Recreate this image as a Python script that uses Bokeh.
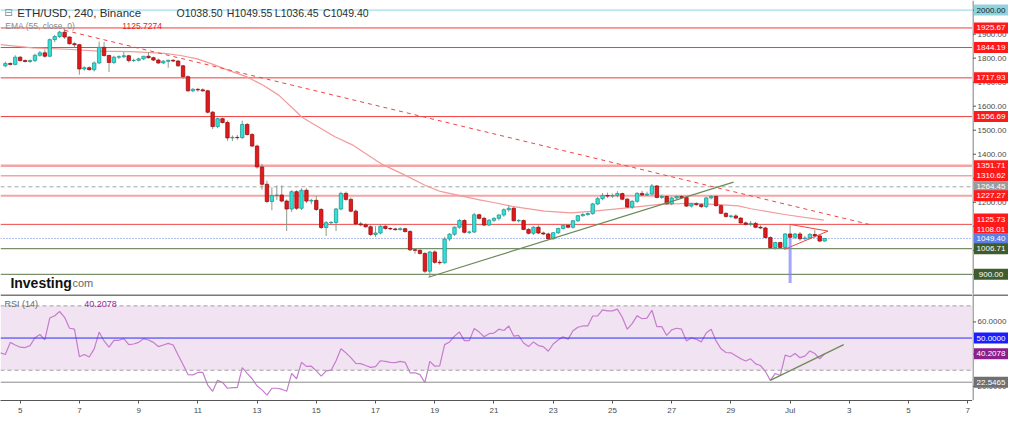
from bokeh.plotting import figure
from bokeh.models import (Range1d, FixedTicker, Label, Span, ColumnDataSource, BoxAnnotation)
from bokeh.layouts import column, row
from bokeh.core.properties import value
from bokeh.embed import file_html
from bokeh.resources import INLINE

# ---------------- data (ETH/USD 4h candles, Binance) ----------------
opens = [1768,1778,1774,1804,1790,1786,1790,1812,1822,1808,
         1877,1890,1908,1888,1860,1856,1755,1760,1752,1780,
         1845,1811,1782,1804,1806,1810,1790,1791,1797,1808,
         1802,1792,1780,1787,1791,1788,1768,1723,1664,1670,
         1668,1664,1575,1515,1548,1532,1468,1470,1469,1524,
         1482,1434,1347,1275,1203,1228,1230,1205,1172,1244,
         1175,1250,1205,1208,1170,1095,1115,1116,1172,1237,
         1212,1163,1110,1106,1098,1066,1072,1100,1091,1089,
         1086,1090,1078,1002,1000,987,913,993,950,948,
         1047,1067,1096,1124,1075,1076,1148,1133,1105,1125,
         1133,1147,1169,1175,1123,1124,1087,1071,1096,1072,
         1068,1048,1073,1091,1104,1096,1123,1144,1149,1153,
         1193,1215,1228,1226,1228,1236,1213,1180,1204,1237,
         1230,1234,1268,1220,1224,1194,1218,1224,1220,1184,
         1194,1190,1182,1218,1224,1186,1154,1141,1143,1134,
         1114,1108,1112,1096,1093,1053,1011,1032,1012,1068,
         1054,1068,1048,1051,1066,1060,1038.5]
closes = [1778,1774,1804,1790,1786,1790,1812,1822,1808,1877,
          1890,1908,1888,1860,1856,1755,1760,1752,1780,1845,
          1811,1782,1804,1806,1810,1790,1791,1797,1808,1802,
          1792,1780,1787,1791,1788,1768,1723,1664,1670,1668,
          1664,1575,1515,1548,1532,1468,1470,1469,1524,1482,
          1434,1347,1275,1203,1228,1230,1205,1172,1244,1175,
          1250,1205,1208,1170,1095,1115,1116,1172,1237,1212,
          1163,1110,1106,1098,1066,1072,1100,1091,1089,1086,
          1090,1078,1002,1000,987,913,993,950,948,1047,
          1067,1096,1124,1075,1076,1148,1133,1105,1125,1133,
          1147,1169,1175,1123,1124,1087,1071,1096,1072,1068,
          1048,1073,1091,1104,1096,1123,1144,1149,1153,1193,
          1215,1228,1226,1228,1236,1213,1180,1204,1237,1230,
          1234,1268,1220,1224,1194,1218,1224,1220,1184,1194,
          1190,1182,1218,1224,1186,1154,1141,1143,1134,1114,
          1108,1112,1096,1093,1053,1011,1032,1012,1068,1054,
          1068,1048,1051,1066,1060,1038.5,1049.4]
highs = [1786,1782,1812,1808,1795,1794,1818,1830,1836,1882,
         1896,1914,1923,1890,1866,1860,1766,1766,1786,1869,
         1867,1815,1810,1812,1826,1814,1798,1802,1808,1826,
         1806,1798,1792,1794,1796,1792,1772,1728,1676,1676,
         1674,1668,1580,1552,1552,1540,1478,1480,1540,1530,
         1488,1440,1359,1290,1262,1270,1270,1212,1250,1250,
         1258,1258,1214,1226,1176,1122,1122,1176,1244,1244,
         1220,1170,1118,1112,1104,1100,1106,1104,1096,1094,
         1096,1094,1084,1010,1004,992,998,1000,960,1056,
         1072,1100,1130,1130,1082,1156,1152,1140,1130,1138,
         1150,1175,1188,1180,1130,1128,1092,1100,1104,1078,
         1074,1076,1094,1108,1110,1126,1148,1156,1158,1198,
         1222,1238,1240,1236,1246,1240,1218,1208,1242,1248,
         1244,1276,1272,1232,1228,1224,1228,1230,1226,1198,
         1200,1196,1222,1230,1230,1190,1158,1148,1150,1138,
         1120,1122,1118,1104,1098,1058,1036,1036,1072,1108,
         1072,1076,1060,1072,1086,1064,1049.55]
lows = [1762,1770,1770,1786,1782,1780,1784,1806,1802,1804,
        1866,1884,1880,1856,1846,1731,1748,1748,1744,1776,
        1806,1742,1776,1796,1800,1782,1784,1786,1792,1798,
        1788,1776,1776,1760,1784,1764,1714,1660,1658,1660,
        1660,1570,1505,1508,1528,1456,1455,1460,1464,1478,
        1430,1340,1253,1196,1167,1210,1200,1080,1160,1168,
        1168,1196,1192,1164,1088,1060,1108,1080,1166,1206,
        1158,1104,1100,1094,1060,1056,1066,1086,1084,1082,
        1082,1074,996,986,982,906,889,944,940,944,
        1038,1060,1090,1070,1068,1072,1128,1100,1100,1118,
        1124,1140,1160,1120,1116,1084,1066,1064,1068,1064,
        1044,1044,1068,1086,1092,1090,1118,1140,1144,1148,
        1188,1208,1218,1218,1220,1208,1176,1172,1198,1226,
        1226,1228,1216,1214,1190,1188,1212,1214,1180,1178,
        1186,1176,1176,1212,1182,1150,1136,1134,1130,1110,
        1104,1100,1092,1088,1050,1006,1003,1008,1003,1046,
        1046,1040,1044,1046,1052,1034,1036.45]

# RSI(14), one value per candle, starting one candle before the first drawn candle
rsi = [40.8,39.8,47.3,45.7,44.3,44.1,45.3,50.2,52.2,48.8,
       62.5,63.9,66.5,62.9,56.1,55.5,38.4,39.8,38.2,43.3,
       53.7,48.2,44.3,48.6,48.6,49.6,45.9,46.3,47.3,49.6,
       48.8,47.3,44.7,45.7,46.7,45.7,39.4,33.5,27.3,27.1,
       28.6,28.6,20.8,16.9,23.7,22.4,18.8,19.2,19.2,31.6,
       28.0,24.7,20.2,17.8,14.5,18.8,18.8,18.2,16.9,28.0,
       24.7,34.9,32.4,32.5,29.6,26.3,29.6,30.0,35.9,43.3,
       40.8,37.8,34.3,34.1,32.9,31.8,32.2,35.9,35.5,34.9,
       34.7,35.5,34.9,28.4,28.4,27.3,22.4,35.5,32.5,32.7,
       45.9,47.6,51.2,53.7,48.4,48.4,55.9,53.7,50.8,52.7,
       53.1,
       55.5,54.7,57.5,51.2,51.6,46.9,44.7,47.6,45.3,44.7,
       41.8,46.3,48.8,50.8,49.2,54.5,56.7,57.5,57.5,63.7,
       63.7,67.5,66.9,66.9,68.0,62.9,55.5,59.0,63.9,62.0,
       62.4,67.3,57.1,57.1,51.6,55.1,56.1,55.5,48.2,50.2,
       49.2,47.6,53.1,55.5,48.2,43.3,41.0,40.8,39.0,37.1,
       35.7,37.1,33.9,32.9,29.2,23.7,28.0,26.7,39.4,38.4,
       40.4,37.8,38.8,42.0,40.4,37.1,40.2]

# EMA(55): (day of June, value)
ema_day = [4.34,5.43,6.56,7.66,8.75,9.88,10.42,10.98,11.54,12.08,12.64,13.21,13.74,
           14.30,14.53,15.63,16.20,17.19,17.96,18.72,19.19,19.85,20.51,20.95,21.61,
           22.71,23.60,24.37,25.50,26.59,27.69,28.59,29.25,29.68,30.81,32.14]
ema_val = [1856,1843,1837,1829,1827,1820,1811,1797,1773,1747,1723,1687,1645,
           1580,1553,1473,1440,1360,1315,1268,1245,1228,1210,1200,1183,
           1163,1156,1163,1177,1191,1196,1190,1185,1173,1149,1125.73]

# drawn trend lines (day, value)
down_x, down_y = [6.5, 33.8], [1916, 1104]
up_x, up_y = [18.79, 29.09], [888, 1284]
pen_top_x, pen_top_y = [30.98, 32.28], [1108, 1080]
pen_bot_x, pen_bot_y = [30.81, 32.28], [1004, 1080]
spike_x, spike_y = [31.0, 31.0], [1050, 864]
rsi_tr_x, rsi_tr_y = [30.33, 32.81], [23.7, 45.9]

# horizontal levels and price tags
level_vals = [2000.00, 1925.67, 1844.19, 1717.93, 1556.69, 1351.71, 1310.62,
              1264.45, 1227.27, 1108.01, 1049.40, 1006.71, 900.00]
tag_vals = [2000.00, 1925.67, 1844.19, 1717.93, 1556.69, 1351.71, 1310.62,
            1264.45, 1227.27, 1125.73, 1108.01, 1049.40, 1006.71, 900.00]
price_ticks = [900, 1000, 1100, 1200, 1300, 1400, 1500, 1600, 1700, 1800, 1900, 2000]
rsi_ticks = [20, 40, 60]
rsi_tags = [50.0, 40.2078, 22.5465]

tick_days = [5, 7, 9, 11, 13, 15, 17, 19, 21, 23, 25, 27, 29, 31, 33, 35, 37]
tick_labels = ["5", "7", "9", "11", "13", "15", "17", "19", "21", "23", "25", "27", "29",
               "Jul", "3", "5", "7"]

# ---------------- styles ----------------
level_cols = ["#8fd3df", "#ef3b3b", "#ef3b3b", "#ef3b3b", "#ef3b3b", "#f6a3a3", "#f6a3a3",
              "#a6a6a6", "#f6a3a3", "#ee4848", "#5b7fe6", "#5a7648", "#5a7648"]
level_w = [1, 1, 1, 1, 1, 2.5, 1.5, 1, 2, 1, 1, 1, 1]
level_dash = ["solid"] * 7 + ["4 3", "solid", "solid", "1 2", "solid", "solid"]
tag_bg = ["#8fd3df", "#ff1a1a", "#ff1a1a", "#ff1a1a", "#ff1a1a", "#ff1a1a", "#ff1a1a",
          "#9b9b9b", "#ff1a1a", "#ff1a1a", "#ff1a1a", "#5b7fe6", "#3e5c2c", "#3e5c2c"]
tag_fg = ["#1a1a1a"] + ["white"] * 13
tag_shift_px = [0] * 9 + [1, -5] + [0] * 3
rsi_tag_bg = ["#1c1cff", "#8b1f8b", "#707070"]

FONT = "Liberation Sans"
XMIN, XMAX = 4.336, 37.159
PMIN, PMAX = 816, 2040
RMIN, RMAX = 11.18, 77.06
FW, AW = 972, 36
MH, RH, XAH = 294, 106, 17


def txt(fig, x, y, text, size, color, style="normal", baseline="middle", font=FONT):
    fig.add_layout(Label(x=x, y=y, text=text, text_font=font, text_font_size=size,
                         text_color=color, text_font_style=style,
                         text_align="left", text_baseline=baseline))


def axis_fig(y_range, height, bottom):
    f = figure(frame_width=AW, frame_height=height, x_range=Range1d(0, AW), y_range=y_range,
               x_axis_location=None, y_axis_location=None, output_backend="svg",
               toolbar_location=None, min_border_left=0, min_border_right=0,
               min_border_top=0, min_border_bottom=bottom)
    f.grid.visible = False
    f.outline_line_color = None
    f.add_layout(Span(location=0.5, dimension="height", line_color="#555555", line_width=1))
    return f


def axis_ticks(f, ticks, labels):
    f.segment(x0=[0.5] * len(ticks), y0=ticks, x1=[3.5] * len(ticks), y1=ticks,
              line_color="#555555", line_width=1)
    f.text(x=[5] * len(ticks), y=ticks, text=labels, text_font=value(FONT),
           text_font_size="8px", text_color="#4a4a4a", text_baseline="middle",
           text_align="left")


def axis_tags(f, ys, labels, bgs, fgs):
    f.rect(x=[18.5] * len(ys), y=ys, width=[34] * len(ys), height=11, height_units="screen",
           fill_color=bgs, line_color=None)
    f.text(x=[18.5] * len(ys), y=ys, text=labels, text_font=value(FONT),
           text_font_size="8px", text_color=fgs, text_baseline="middle", text_align="center")


# ---------------- main price pane ----------------
p = figure(frame_width=FW, frame_height=MH, x_range=Range1d(XMIN, XMAX),
           y_range=Range1d(PMIN, PMAX), x_axis_location=None, y_axis_location=None,
           output_backend="svg", toolbar_location=None,
           min_border_left=0, min_border_right=0, min_border_top=0, min_border_bottom=0)
p.grid.visible = False
p.outline_line_color = None

for v, c, w, d in zip(level_vals, level_cols, level_w, level_dash):
    p.add_layout(Span(location=v, dimension="width", line_color=c, line_width=w,
                      line_dash=d, level="underlay"))

cx = [4.5 + i / 6 for i in range(len(closes))]
up = [c >= o for o, c in zip(opens, closes)]
src = ColumnDataSource(dict(
    x=cx, o=opens, h=highs, l=lows, c=closes,
    top=[max(o, c) for o, c in zip(opens, closes)],
    bot=[min(o, c) for o, c in zip(opens, closes)],
    fill=["#33dfd6" if u else "#e3191c" for u in up],
    line=["#1f9a94" if u else "#9a1010" for u in up],
))
p.line(ema_day, ema_val, line_color="#f39a9a", line_width=1.2)
p.segment(x0="x", y0="l", x1="x", y1="h", source=src, line_color="#8a9a8c", line_width=1)
p.vbar(x="x", width=0.115, top="top", bottom="bot", source=src,
       fill_color="fill", line_color="line", line_width=0.8)

p.line(down_x, down_y, line_color="#ee4444", line_width=1, line_dash="4 4")
p.line(up_x, up_y, line_color="#6c8a58", line_width=1.2)
p.line(pen_top_x, pen_top_y, line_color="#ee4444", line_width=1)
p.line(pen_bot_x, pen_bot_y, line_color="#ee4444", line_width=1)
p.line(spike_x, spike_y, line_color="#7f7fff", line_width=3, line_alpha=0.7)

txt(p, 4.46, 1988, "\u229f", "10px", "#888888", font="DejaVu Sans")
txt(p, 4.90, 1988, "ETH/USD, 240, Binance", "11.5px", "#2f2f2f")
txt(p, 10.28, 1988, "O1038.50", "10.5px", "#2f2f2f")
txt(p, 11.98, 1988, "H1049.55", "10.5px", "#2f2f2f")
txt(p, 13.60, 1988, "L1036.45", "10.5px", "#2f2f2f")
txt(p, 15.23, 1988, "C1049.40", "10.5px", "#2f2f2f")
txt(p, 4.50, 1932, "EMA (55, close, 0)", "8.5px", "#8a8a8a")
txt(p, 8.45, 1932, "1125.7274", "8.5px", "#e82222")
txt(p, 4.67, 862, "Investing", "14px", "#111111", style="bold", baseline="alphabetic")
txt(p, 6.66, 862, ".com", "11px", "#666666", baseline="alphabetic")

# price scale on the right
pa = axis_fig(p.y_range, MH, 0)
axis_ticks(pa, price_ticks, [f"{t:.2f}" for t in price_ticks])
ppp = (PMAX - PMIN) / MH
tag_pos = [v + s * ppp for v, s in zip(tag_vals, tag_shift_px)]
axis_tags(pa, tag_pos, [f"{v:.2f}" for v in tag_vals], tag_bg, tag_fg)

# ---------------- RSI pane ----------------
r = figure(frame_width=FW, frame_height=RH, x_range=p.x_range,
           y_range=Range1d(RMIN, RMAX), y_axis_location=None,
           output_backend="svg", toolbar_location=None,
           min_border_left=0, min_border_right=0, min_border_top=0, min_border_bottom=XAH)
r.grid.visible = False
r.outline_line_color = None
r.add_layout(BoxAnnotation(bottom=30, top=70, fill_color="#f1e3f1", fill_alpha=1.0,
                           line_color=None, level="underlay"))
r.add_layout(Span(location=70, dimension="width", line_color="#a0a0a0", line_dash="4 3", line_width=1))
r.add_layout(Span(location=30, dimension="width", line_color="#a0a0a0", line_dash="4 3", line_width=1))
r.add_layout(Span(location=50, dimension="width", line_color="#2b2bff", line_width=1))
r.add_layout(Span(location=22.5465, dimension="width", line_color="#8c8c8c", line_width=1))
r.add_layout(Span(location=RMAX, dimension="width", line_color="#7a7a7a", line_width=3))

rsi_x = [4.5 + (i - 1) / 6 for i in range(len(rsi))]
r.line(rsi_x, rsi, line_color="#c67ccf", line_width=1.2)
r.line(rsi_tr_x, rsi_tr_y, line_color="#6c8a58", line_width=1.2)

xa = r.xaxis[0]
xa.ticker = FixedTicker(ticks=tick_days)
xa.major_label_overrides = {d: t for d, t in zip(tick_days, tick_labels)}
xa.axis_line_color = "#555555"
xa.major_tick_line_color = "#555555"
xa.minor_tick_line_color = None
xa.major_tick_out = 3
xa.major_tick_in = 0
xa.major_label_standoff = 2
xa.major_label_text_font = FONT
xa.major_label_text_font_size = "8px"
xa.major_label_text_color = "#4a4a4a"

txt(r, 4.47, 71.0, "RSI (14)", "9px", "#6a6a6a")
txt(r, 7.16, 71.0, "40.2078", "9px", "#9a2a9a")

ra = axis_fig(r.y_range, RH, XAH)
ra.add_layout(Span(location=RMAX, dimension="width", line_color="#7a7a7a", line_width=3))
axis_ticks(ra, rsi_ticks, [f"{t:.4f}" for t in rsi_ticks])
axis_tags(ra, rsi_tags, [f"{v:.4f}" for v in rsi_tags], rsi_tag_bg, ["white"] * 3)

layout = column(row(p, pa, spacing=0), row(r, ra, spacing=0), spacing=0)
open("out.html", "w").write(file_html(layout, INLINE))
